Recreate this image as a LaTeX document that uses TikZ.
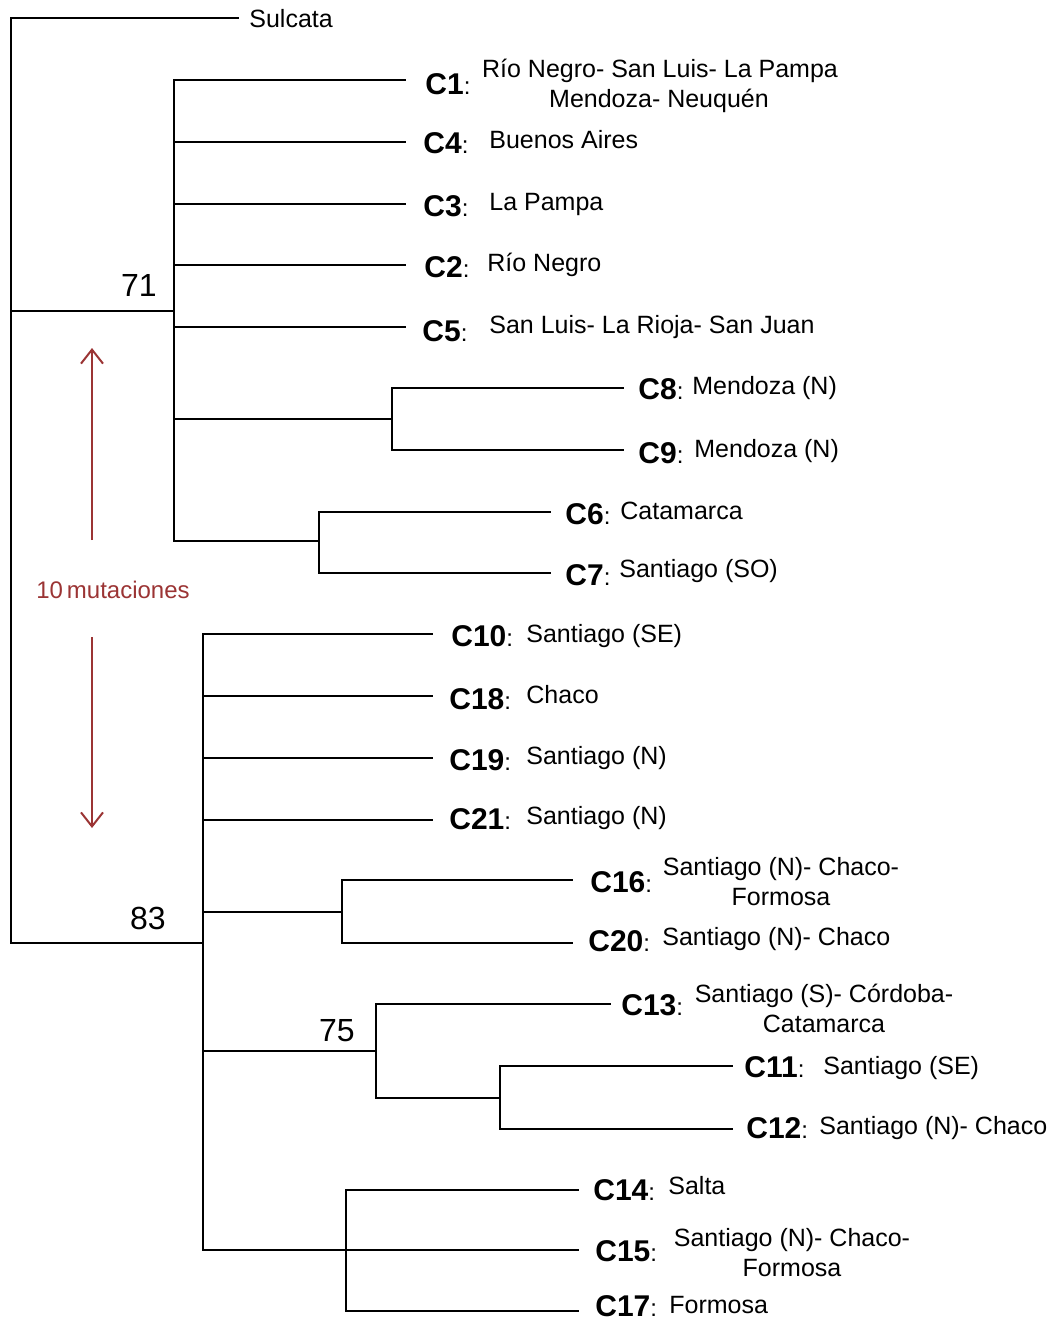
\documentclass[tikz,border=0pt]{standalone}
\usepackage{fontspec}
\setmainfont{Liberation Sans}
\usetikzlibrary{arrows.meta}
\definecolor{mutred}{RGB}{155,52,52}
\newcommand{\descfont}{\fontsize{12.5}{15}\selectfont}
\newcommand{\lblfont}{\fontsize{15}{18}\selectfont\bfseries}
\newcommand{\colfont}{\fontsize{12}{14}\selectfont\mdseries}
\newcommand{\numfont}{\fontsize{16}{19}\selectfont}
\newcommand{\lbl}[1]{{\lblfont #1}{\colfont :}}
\begin{document}
\begin{tikzpicture}[x=0.5pt,y=-0.5pt,
  branch/.style={line width=1.1pt,line cap=rect,black},
  desc/.style={inner sep=0pt,anchor=base west,font=\descfont},
  descc/.style={inner sep=0pt,anchor=base,font=\descfont},
  clabel/.style={inner sep=0pt,anchor=base west},
  bnum/.style={inner sep=0pt,anchor=base east,font=\numfont},
  mutarrow/.style={mutred,line width=1pt,-{Straight Barb[length=7pt,width=11pt,line width=1pt]}}]
\useasboundingbox (0,0) rectangle (1055,1324);
% coordinates
\coordinate (root) at (11,311);
\coordinate (tSul) at (238,18);
\coordinate (n71) at (174,311);
\coordinate (tC1) at (405,80);
\coordinate (tC4) at (405,142);
\coordinate (tC3) at (405,204);
\coordinate (tC2) at (405,265);
\coordinate (tC5) at (405,327);
\coordinate (n89) at (392,419);
\coordinate (tC8) at (623,388);
\coordinate (tC9) at (623,450);
\coordinate (n67) at (319,541);
\coordinate (tC6) at (550,512);
\coordinate (tC7) at (550,573);
\coordinate (n83) at (203,943);
\coordinate (tC10) at (432,634);
\coordinate (tC18) at (432,696);
\coordinate (tC19) at (432,758);
\coordinate (tC21) at (432,820);
\coordinate (n1620) at (342,912);
\coordinate (tC16) at (572,880);
\coordinate (tC20) at (572,943);
\coordinate (n75) at (376,1051);
\coordinate (tC13) at (610,1004);
\coordinate (n1112) at (500,1098);
\coordinate (tC11) at (732,1066);
\coordinate (tC12) at (732,1129);
\coordinate (n1417) at (346,1250);
\coordinate (tC14) at (578,1190);
\coordinate (tC15) at (578,1250);
\coordinate (tC17) at (578,1311);
% root
\draw[branch] (root |- tSul) -- (root |- n83);
\draw[branch] (root |- tSul) -- (tSul);
\draw[branch] (root) -- (n71);
\draw[branch] (root |- n83) -- (n83);
% clade 71
\draw[branch] (n71 |- tC1) -- (n71 |- n67);
\foreach \t in {tC1,tC4,tC3,tC2,tC5,n89,n67} \draw[branch] (n71 |- \t) -- (\t);
\draw[branch] (n89 |- tC8) -- (n89 |- tC9);
\draw[branch] (n89 |- tC8) -- (tC8);
\draw[branch] (n89 |- tC9) -- (tC9);
\draw[branch] (n67 |- tC6) -- (n67 |- tC7);
\draw[branch] (n67 |- tC6) -- (tC6);
\draw[branch] (n67 |- tC7) -- (tC7);
% clade 83
\draw[branch] (n83 |- tC10) -- (n83 |- n1417);
\foreach \t in {tC10,tC18,tC19,tC21,n1620,n75,n1417} \draw[branch] (n83 |- \t) -- (\t);
\draw[branch] (n1620 |- tC16) -- (n1620 |- tC20);
\draw[branch] (n1620 |- tC16) -- (tC16);
\draw[branch] (n1620 |- tC20) -- (tC20);
\draw[branch] (n75 |- tC13) -- (n75 |- n1112);
\draw[branch] (n75 |- tC13) -- (tC13);
\draw[branch] (n75 |- n1112) -- (n1112);
\draw[branch] (n1112 |- tC11) -- (n1112 |- tC12);
\draw[branch] (n1112 |- tC11) -- (tC11);
\draw[branch] (n1112 |- tC12) -- (tC12);
\draw[branch] (n1417 |- tC14) -- (n1417 |- tC17);
\draw[branch] (n1417 |- tC14) -- (tC14);
\draw[branch] (n1417 |- tC15) -- (tC15);
\draw[branch] (n1417 |- tC17) -- (tC17);
% support values
\node[bnum] (b71) at (157,296) {71};
\node[bnum] (b83) at (166,929) {83};
\node[bnum] (b75) at (355,1041) {75};
% Sulcata
\node[desc] (sul) at (249,27) {Sulcata};
% labels
\node[clabel] (lC1) at (425,94) {\lbl{C1}};
\node[descc] (dC1a) at (660,77) {Río Negro- San Luis- La Pampa};
\node[descc] (dC1b) at (659,107) {Mendoza- Neuquén};
\node[clabel] (lC4) at (423,153) {\lbl{C4}};
\node[desc] (dC4) at (489,148) {Buenos Aires};
\node[clabel] (lC3) at (423,216) {\lbl{C3}};
\node[desc] (dC3) at (489,210) {La Pampa};
\node[clabel] (lC2) at (424,277) {\lbl{C2}};
\node[desc] (dC2) at (487,271) {Río Negro};
\node[clabel] (lC5) at (422,341) {\lbl{C5}};
\node[desc] (dC5) at (489,333) {San Luis- La Rioja- San Juan};
\node[clabel] (lC8) at (638,399) {\lbl{C8}};
\node[desc] (dC8) at (692,394) {Mendoza (N)};
\node[clabel] (lC9) at (638,463) {\lbl{C9}};
\node[desc] (dC9) at (694,457) {Mendoza (N)};
\node[clabel] (lC6) at (565,524) {\lbl{C6}};
\node[desc] (dC6) at (620,519) {Catamarca};
\node[clabel] (lC7) at (565,585) {\lbl{C7}};
\node[desc] (dC7) at (619,577) {Santiago (SO)};
\node[clabel] (lC10) at (451,646) {\lbl{C10}};
\node[desc] (dC10) at (526,642) {Santiago (SE)};
\node[clabel] (lC18) at (449,709) {\lbl{C18}};
\node[desc] (dC18) at (526,703) {Chaco};
\node[clabel] (lC19) at (449,770) {\lbl{C19}};
\node[desc] (dC19) at (526,764) {Santiago (N)};
\node[clabel] (lC21) at (449,829) {\lbl{C21}};
\node[desc] (dC21) at (526,824) {Santiago (N)};
\node[clabel] (lC16) at (590,892) {\lbl{C16}};
\node[descc] (dC16a) at (781,875) {Santiago (N)- Chaco-};
\node[descc] (dC16b) at (781,905) {Formosa};
\node[clabel] (lC20) at (588,951) {\lbl{C20}};
\node[desc] (dC20) at (662,945) {Santiago (N)- Chaco};
\node[clabel] (lC13) at (621,1015) {\lbl{C13}};
\node[descc] (dC13a) at (824,1002) {Santiago (S)- Córdoba-};
\node[descc] (dC13b) at (824,1032) {Catamarca};
\node[clabel] (lC11) at (744,1077) {\lbl{C11}};
\node[desc] (dC11) at (823,1074) {Santiago (SE)};
\node[clabel] (lC12) at (746,1138) {\lbl{C12}};
\node[desc] (dC12) at (819,1134) {Santiago (N)- Chaco};
\node[clabel] (lC14) at (593,1200) {\lbl{C14}};
\node[desc] (dC14) at (668,1194) {Salta};
\node[clabel] (lC15) at (595,1261) {\lbl{C15}};
\node[descc] (dC15a) at (792,1246) {Santiago (N)- Chaco-};
\node[descc] (dC15b) at (792,1276) {Formosa};
\node[clabel] (lC17) at (595,1316) {\lbl{C17}};
\node[desc] (dC17) at (669,1313) {Formosa};
% scale
\node[inner sep=0pt,text=mutred,font=\fontsize{12}{14}\selectfont] (mut) at (113,590) {10\,mutaciones};
\coordinate (a1s) at (92,540);
\coordinate (a1e) at (92,348);
\coordinate (a2s) at (92,637);
\coordinate (a2e) at (92,828);
\draw[mutarrow] (a1s) -- (a1e);
\draw[mutarrow] (a2s) -- (a2e);
\end{tikzpicture}
\end{document}
